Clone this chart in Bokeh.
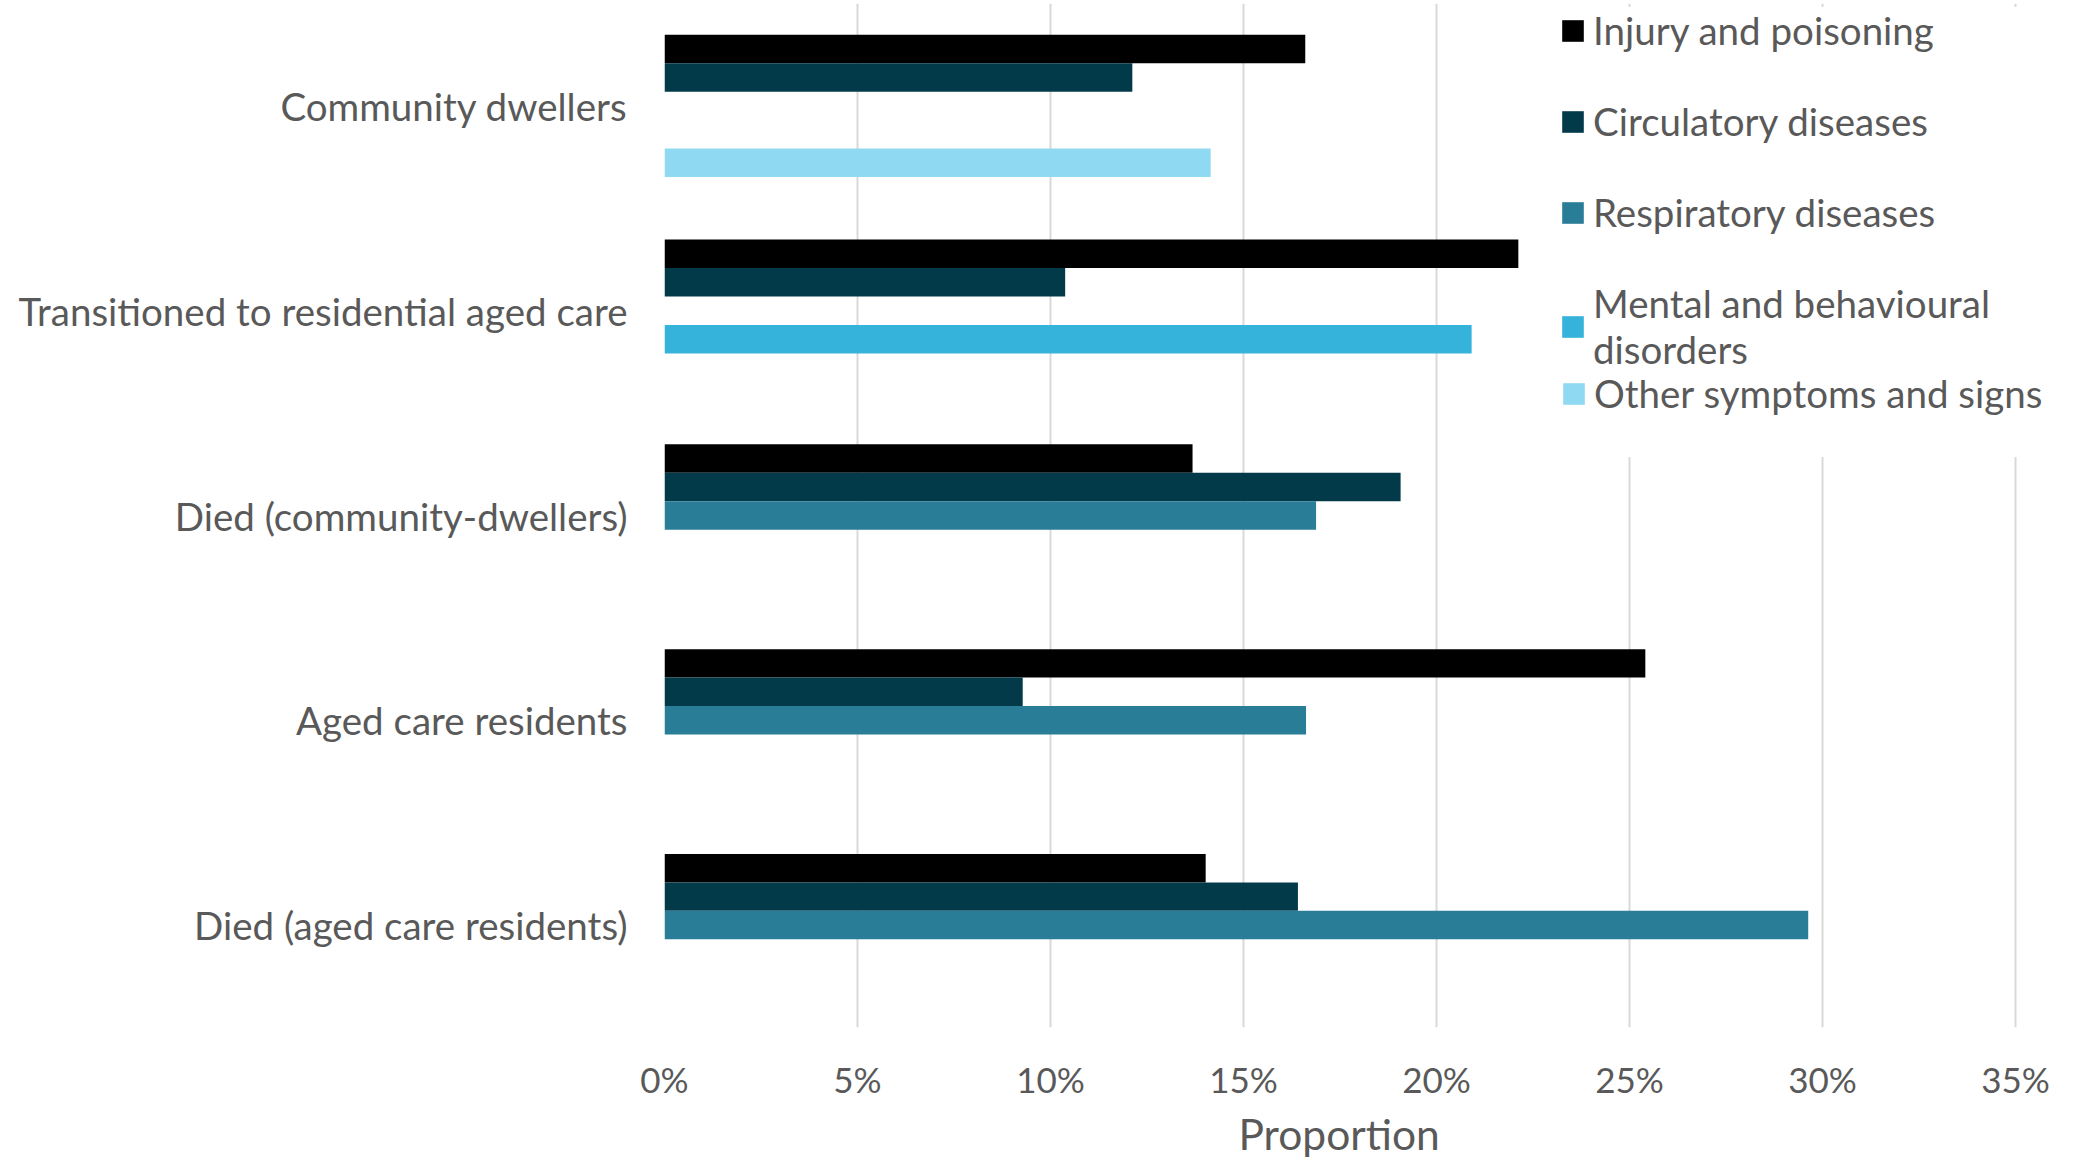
from bokeh.plotting import figure
from bokeh.models import (ColumnDataSource, FactorRange, Range1d, Legend, LegendItem,
                          FixedTicker, NumeralTickFormatter, Title)
from bokeh.transform import dodge
from bokeh.embed import file_html
from bokeh.resources import INLINE

# Cohorts, listed top to bottom
groups = [
    "Community dwellers",
    "Transitioned to residential aged care",
    "Died (community-dwellers)",
    "Aged care residents",
    "Died (aged care residents)",
]

# Causes of hospitalisation (series); a newline marks where a name wraps in the legend
series = [
    "Injury and poisoning",
    "Circulatory diseases",
    "Respiratory diseases",
    "Mental and behavioural\ndisorders",
    "Other symptoms and signs",
]

# Proportions per cohort (None = not among the top causes)
injury = [0.1660, 0.2212, 0.1368, 0.2541, 0.1402]
circulatory = [0.1212, 0.1038, 0.1907, 0.0928, 0.1641]
respiratory = [None, None, 0.1688, 0.1662, 0.2963]
mental = [None, 0.2091, None, None, None]
other = [0.1415, None, None, None, None]

values = [injury, circulatory, respiratory, mental, other]
colors = ["#000000", "#033A4A", "#2A7D97", "#36B3DB", "#90D9F2"]

x_ticks = [0.0, 0.05, 0.10, 0.15, 0.20, 0.25, 0.30, 0.35]
x_title = "Proportion"

FONT = "Lato"
TEXT = "#595959"

# the plotting area runs on past the 35% line so the legend has room
x_end = 0.35 * 1415 / 1351

p = figure(
    width=2079, height=1171,
    x_range=Range1d(0, x_end),
    y_range=FactorRange(factors=groups[::-1], range_padding=0),
    output_backend="svg", toolbar_location=None,
    min_border_left=664, min_border_right=0,
    min_border_top=3, min_border_bottom=144,
)
p.outline_line_color = None
p.background_fill_color = "white"

bar_h = 0.139
items = []
for i, (name, vals, col) in enumerate(zip(series, values, colors)):
    rows = [(g, v) for g, v in zip(groups, vals) if v is not None]
    src = ColumnDataSource(dict(group=[r[0] for r in rows], value=[r[1] for r in rows]))
    offset = (2 - i) * bar_h
    r = p.hbar(y=dodge("group", offset, range=p.y_range), left=0, right="value",
               height=bar_h, source=src, fill_color=col, line_color=None)
    items.append(LegendItem(label=name, renderers=[r]))

# x axis
p.xaxis.ticker = FixedTicker(ticks=x_ticks)
p.xaxis.formatter = NumeralTickFormatter(format="0%")
p.xaxis.axis_line_color = None
p.xaxis.major_tick_line_color = None
p.xaxis.minor_tick_line_color = None
p.xaxis.major_label_standoff = 24
p.xaxis.major_label_text_font = FONT
p.xaxis.major_label_text_font_size = "35px"
p.xaxis.major_label_text_color = TEXT

# axis title, centred under the 0%-35% span rather than the whole frame
p.add_layout(Title(text=x_title, align="left", offset=574, standoff=6,
                   text_font=FONT, text_font_size="42.5px", text_font_style="normal",
                   text_color=TEXT), "below")

# y axis
p.yaxis.axis_line_color = None
p.yaxis.major_tick_line_color = None
p.yaxis.minor_tick_line_color = None
p.yaxis.major_label_standoff = 31
p.yaxis.major_label_text_font = FONT
p.yaxis.major_label_text_font_size = "38.5px"
p.yaxis.major_label_text_color = TEXT

# grid
p.xgrid.ticker = FixedTicker(ticks=x_ticks)
p.xgrid.grid_line_color = "#D9D9D9"
p.xgrid.grid_line_width = 2
p.ygrid.grid_line_color = None

legend_style = dict(
    glyph_width=27, glyph_height=27, label_standoff=7, label_width=430,
    label_text_font=FONT, label_text_font_size="38.5px", label_text_color=TEXT,
    spacing=45, margin=0,
    background_fill_color="white", background_fill_alpha=1.0,
)
# last cause in its own block (drawn first, underneath) so the wrapped
# label above it does not push it down
p.add_layout(Legend(items=items[4:], location=(855, 570), padding=40,
                    border_line_color="white", **legend_style), "center")
p.add_layout(Legend(items=items[:4], location=(895, 655), padding=0,
                    border_line_color=None, **legend_style), "center")

open("out.html", "w").write(file_html(p, INLINE))
